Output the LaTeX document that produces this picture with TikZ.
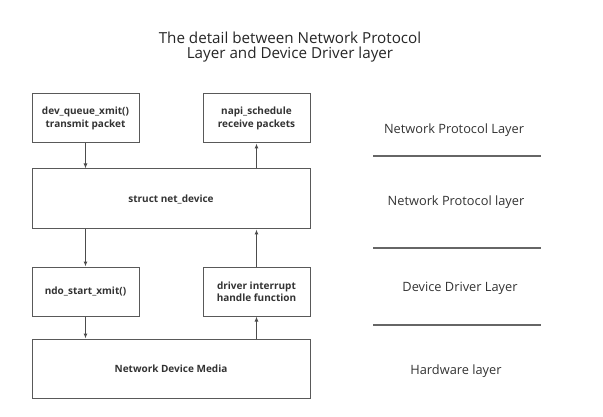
\documentclass[tikz,border=0pt]{standalone}
\usepackage{fontspec}
\setmainfont{Open Sans}
\usepackage{tikz}
\usetikzlibrary{arrows.meta}

\begin{document}
\begin{tikzpicture}[x=1pt,y=-1pt,
  box/.style={draw=black!65,line width=1pt,text=black!80,font=\bfseries\fontsize{10}{12.5}\selectfont,align=center,inner sep=0pt},
  flow/.style={draw=black!70,line width=1pt,-{Latex[length=5pt,width=4pt]}},
  layer/.style={text=black!80,font=\fontsize{12.8}{15}\selectfont},
  sep/.style={draw=black!60,line width=1.2pt}]
\useasboundingbox (0,0) rectangle (603,417);
\node[text=black!85,font=\fontsize{15.2}{15.5}\selectfont,align=center] (title) at (290,47) {The detail between Network Protocol\\Layer and Device Driver layer};
\node[box,minimum width=107pt,minimum height=49pt] (xmit) at (85.5,118.5) {dev\_queue\_xmit()\\transmit packet};
\node[box,minimum width=107pt,minimum height=49pt] (napi) at (256.5,118.5) {napi\_schedule\\receive packets};
\node[box,minimum width=278pt,minimum height=60pt] (netdev) at (171,199) {struct net\_device};
\node[box,minimum width=107pt,minimum height=49pt] (ndo) at (85.5,291.5) {ndo\_start\_xmit()};
\node[box,minimum width=107pt,minimum height=49pt] (irq) at (256.5,291.5) {driver interrupt\\handle function};
\node[box,minimum width=278pt,minimum height=59pt] (media) at (171,368.5) {Network Device Media};
% send path goes down, receive path goes up
\draw[flow] (xmit.south) -- (xmit.south |- netdev.north);
\draw[flow] (ndo.north |- netdev.south) -- (ndo.north);
\draw[flow] (ndo.south) -- (ndo.south |- media.north);
\draw[flow] (irq.south |- media.north) -- (irq.south);
\draw[flow] (irq.north) -- (irq.north |- netdev.south);
\draw[flow] (napi.south |- netdev.north) -- (napi.south);
% layer names on the right
\node[layer] (l1) at (454,130) {Network Protocol Layer};
\node[layer] (l2) at (456,202) {Network Protocol layer};
\node[layer] (l3) at (460,288) {Device Driver Layer};
\node[layer] (l4) at (456,371) {Hardware layer};
\draw[sep] (373,156) -- (541,156);
\draw[sep] (373,248) -- (541,248);
\draw[sep] (373,325) -- (541,325);
\end{tikzpicture}
\end{document}
